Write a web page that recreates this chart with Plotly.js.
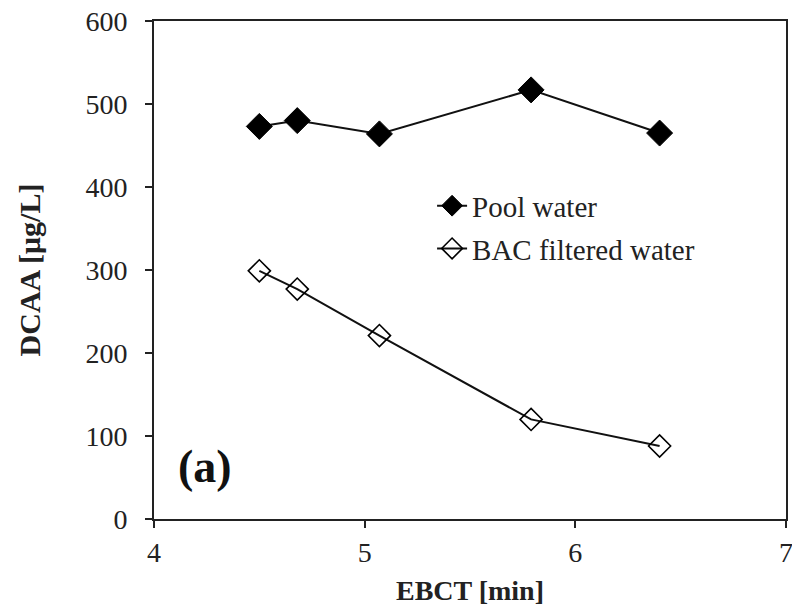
<!DOCTYPE html>
<html>
<head>
<meta charset="utf-8">
<script src="https://cdn.plot.ly/plotly-3.0.1.min.js"></script>
<style>html,body{margin:0;padding:0;background:#fff;}#chart{width:792px;height:609px;}</style>
</head>
<body>
<div id="chart"></div>
<script>
const ebct = [4.50, 4.68, 5.07, 5.79, 6.40];
const poolWater = [473, 480, 464, 517, 465];
const bacWater = [299, 277, 221, 120, 88];
const seriesNames = ["Pool water", "BAC filtered water"];
const xTicks = [4, 5, 6, 7];
const yTicks = [0, 100, 200, 300, 400, 500, 600];

const fontFam = "Liberation Serif";

const traces = [
  {
    x: ebct, y: poolWater, name: seriesNames[0], type: "scatter", mode: "lines+markers",
    legendgroup: "g1",
    line: {color: "#111", width: 2},
    marker: {symbol: "diamond", size: 20, color: "#000", line: {color: "#000", width: 1}}
  },
  {
    x: ebct, y: bacWater, name: seriesNames[1], type: "scatter", mode: "lines+markers",
    legendgroup: "g2",
    line: {color: "#111", width: 2},
    marker: {symbol: "diamond-open", size: 17, color: "#000", line: {color: "#000", width: 1.6}}
  }
];

const layout = {
  width: 792, height: 609,
  margin: {l: 154, r: 6, t: 21, b: 90},
  paper_bgcolor: "#fff", plot_bgcolor: "#fff",
  font: {family: fontFam, color: "#222", size: 28},
  showlegend: true,
  legend: {
    x: 0.44, y: 0.68, xanchor: "left", yanchor: "top",
    bgcolor: "rgba(0,0,0,0)", font: {family: fontFam, size: 29, color: "#222"},
    tracegroupgap: 2
  },
  xaxis: {
    range: [4, 7], tickvals: xTicks, ticktext: xTicks.map(String),
    showgrid: false, zeroline: false,
    showline: true, linecolor: "#222", linewidth: 2, mirror: true,
    ticks: "outside", ticklen: 7, tickwidth: 2, tickcolor: "#222",
    ticklabeloverflow: "allow",
    tickfont: {family: fontFam, size: 28, color: "#222"},
    title: {text: "<b>EBCT [min]</b>", font: {family: fontFam, size: 28, color: "#222"}, standoff: 14}
  },
  yaxis: {
    range: [0, 600], tickvals: yTicks, ticktext: yTicks.map(String),
    showgrid: false, zeroline: false,
    showline: true, linecolor: "#222", linewidth: 2, mirror: true,
    ticks: "outside", ticklen: 7, tickwidth: 2, tickcolor: "#222",
    ticklabelstandoff: 12,
    tickfont: {family: fontFam, size: 28, color: "#222"},
    title: {text: "<b>DCAA [μg/L]</b>", font: {family: fontFam, size: 30, color: "#222"}, standoff: 36}
  },
  annotations: [
    {text: "<b>(a)</b>", xref: "paper", yref: "paper", x: 0.035, y: 0.105,
     xanchor: "left", yanchor: "middle", showarrow: false,
     font: {family: fontFam, size: 46, color: "#111"}}
  ]
};

Plotly.newPlot("chart", traces, layout, {displayModeBar: false, staticPlot: true});
</script>
</body>
</html>
